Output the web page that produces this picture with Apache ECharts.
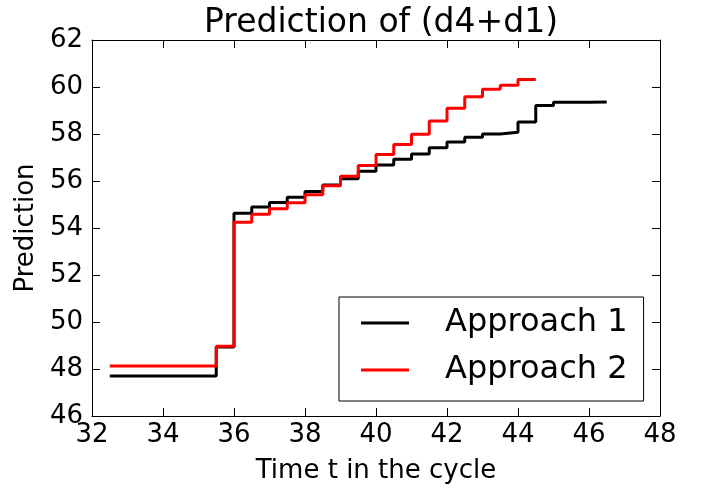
<!DOCTYPE html>
<html>
<head>
<meta charset="utf-8">
<script src="https://cdn.jsdelivr.net/npm/echarts@6/dist/echarts.min.js"></script>
<style>html,body{margin:0;padding:0;background:#fff;}#c{width:701px;height:491px;}</style>
</head>
<body>
<div id="c"></div>
<script>
var timesA1 = [32.5, 35, 35.5, 36, 36.5, 37, 37.5, 38, 38.5, 39, 39.5, 40, 40.5, 41, 41.5, 42, 42.5, 43, 43.5, 44, 44.5, 45, 45.5, 46, 46.5];
var approach1 = [47.70, 47.70, 48.94, 54.63, 54.89, 55.08, 55.31, 55.55, 55.83, 56.10, 56.41, 56.68, 56.93, 57.15, 57.42, 57.66, 57.86, 58.00, 58.07, 58.51, 59.21, 59.35, 59.35, 59.36, 59.36];
var timesA2 = [32.5, 35, 35.5, 36, 36.5, 37, 37.5, 38, 38.5, 39, 39.5, 40, 40.5, 41, 41.5, 42, 42.5, 43, 43.5, 44, 44.5];
var approach2 = [48.13, 48.13, 48.97, 54.24, 54.59, 54.82, 55.07, 55.41, 55.80, 56.20, 56.66, 57.13, 57.55, 57.99, 58.55, 59.10, 59.58, 59.90, 60.07, 60.32, 60.32];
var seriesNames = ['Approach 1', 'Approach 2'];

function pairs(xs, ys) { return xs.map(function (x, i) { return [x, ys[i]]; }); }

var font = 'DejaVu Sans';
var chart = echarts.init(document.getElementById('c'), null, {renderer: 'canvas'});
var baseX = {
  type: 'value', min: 32, max: 48, interval: 2,
  axisLine: {show: true, onZero: false, lineStyle: {color: '#000', width: 1}},
  axisTick: {show: true, inside: true, length: 8, lineStyle: {color: '#000'}},
  splitLine: {show: false}
};
var baseY = {
  type: 'value', min: 46, max: 62, interval: 2,
  axisLine: {show: true, onZero: false, lineStyle: {color: '#000', width: 1}},
  axisTick: {show: true, inside: true, length: 8, lineStyle: {color: '#000'}},
  splitLine: {show: false}
};
chart.setOption({
  animation: false,
  backgroundColor: '#fff',
  title: {
    text: 'Prediction of (d4+d1)', left: 376, top: 2, textAlign: 'center',
    textStyle: {fontFamily: font, fontSize: 33, fontWeight: 'normal', color: '#000'}
  },
  grid: {left: 92, right: 41, top: 40, bottom: 75},
  xAxis: [
    Object.assign({}, baseX, {
      position: 'bottom',
      name: 'Time t in the cycle', nameLocation: 'middle', nameGap: 42,
      nameTextStyle: {fontFamily: font, fontSize: 26, color: '#000'},
      axisLabel: {fontFamily: font, fontSize: 26, color: '#000', margin: 6}
    }),
    Object.assign({}, baseX, {position: 'top', axisLabel: {show: false}})
  ],
  yAxis: [
    Object.assign({}, baseY, {
      position: 'left',
      name: 'Prediction', nameLocation: 'middle', nameGap: 50,
      nameTextStyle: {fontFamily: font, fontSize: 26, color: '#000'},
      axisLabel: {fontFamily: font, fontSize: 26, color: '#000', margin: 9}
    }),
    Object.assign({}, baseY, {position: 'right', axisLabel: {show: false}})
  ],
  legend: {
    orient: 'vertical', left: 339, top: 297,
    padding: [8, 16, 13, 22],
    borderColor: '#000', borderWidth: 1,
    backgroundColor: '#fff',
    itemWidth: 48, itemHeight: 3, itemGap: 11,
    icon: 'rect',
    data: seriesNames,
    textStyle: {fontFamily: font, fontSize: 32, color: '#000', padding: [0, 0, 0, 31], lineHeight: 36},
    selectedMode: false
  },
  series: [
    {
      name: seriesNames[0], type: 'line', step: 'end', showSymbol: false, symbol: 'none',
      data: pairs(timesA1, approach1),
      lineStyle: {color: '#000', width: 3}, itemStyle: {color: '#000'}, z: 2
    },
    {
      name: seriesNames[1], type: 'line', step: 'end', showSymbol: false, symbol: 'none',
      data: pairs(timesA2, approach2),
      lineStyle: {color: '#ff0000', width: 3}, itemStyle: {color: '#ff0000'}, z: 3
    }
  ]
});
</script>
</body>
</html>
